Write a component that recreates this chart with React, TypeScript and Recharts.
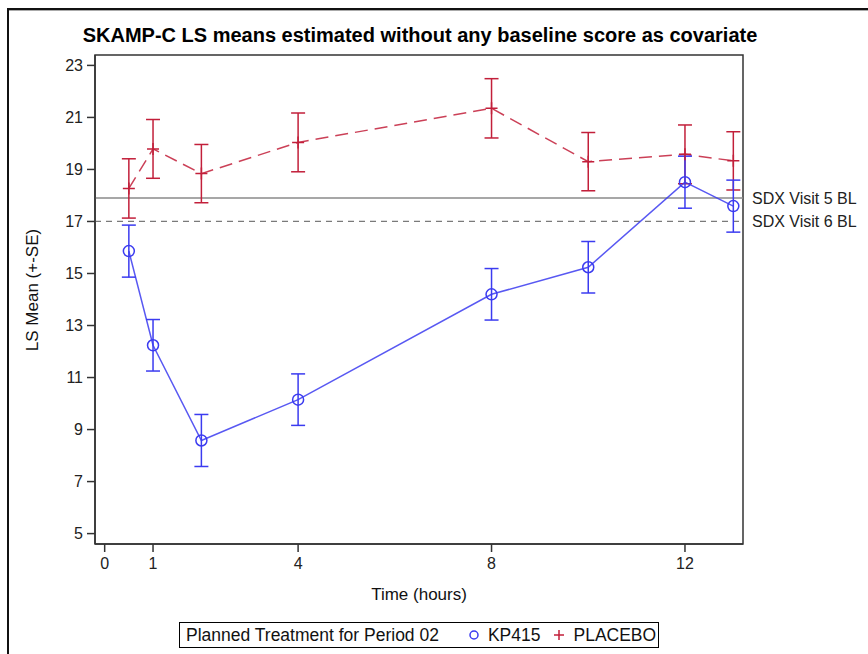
import {
  LineChart,
  Line,
  XAxis,
  YAxis,
  ErrorBar,
  ReferenceLine,
  ReferenceArea,
} from 'recharts'

// Planned time points (hours) and LS means / standard errors per treatment
const hours = [0.5, 1, 2, 4, 8, 10, 12, 13]
const kp415Mean = [15.86, 12.24, 8.58, 10.15, 14.2, 15.24, 18.51, 17.59]
const kp415Se = [1.0, 0.99, 1.0, 0.99, 0.99, 0.99, 1.0, 1.0]
const placeboMean = [18.27, 19.79, 18.84, 20.04, 21.35, 19.3, 19.58, 19.33]
const placeboSe = [1.14, 1.13, 1.12, 1.13, 1.14, 1.12, 1.13, 1.12]

const xTicks = [0, 1, 4, 8, 12]
const yTicks = [5, 7, 9, 11, 13, 15, 17, 19, 21, 23]

// SDX baselines
const visit5Baseline = 17.9
const visit6Baseline = 17.0

const BLUE = '#3b3bf0'
const RED = '#c21f3a'
const FONT = '"Liberation Sans", Arial, sans-serif'

const rows = hours.map((h, i) => ({
  hours: h,
  kp415: kp415Mean[i],
  kp415Se: kp415Se[i],
  placebo: placeboMean[i],
  placeboSe: placeboSe[i],
}))

function PlusDot(props: { cx?: number; cy?: number; index?: number }) {
  const { cx, cy, index } = props
  if (cx == null || cy == null) return <g key={index} />
  return (
    <path
      key={index}
      d={`M${cx - 6},${cy}H${cx + 6}M${cx},${cy - 6}V${cy + 6}`}
      stroke={RED}
      strokeWidth={1.5}
      fill="none"
    />
  )
}

function LegendBox() {
  return (
    <div
      style={{
        position: 'absolute',
        left: 179,
        top: 622,
        width: 480,
        height: 26,
        border: '1px solid #000',
        display: 'flex',
        alignItems: 'center',
        fontFamily: FONT,
        fontSize: 17.5,
        color: '#111',
        boxSizing: 'border-box',
        paddingLeft: 6,
        whiteSpace: 'nowrap',
      }}
    >
      <span>Planned Treatment for Period 02</span>
      <svg width={12} height={12} style={{ marginLeft: 29, marginRight: 8 }}>
        <circle cx={6} cy={6} r={4} fill="none" stroke={BLUE} strokeWidth={1.5} />
      </svg>
      <span>KP415</span>
      <svg width={12} height={12} style={{ marginLeft: 13, marginRight: 8 }}>
        <path d="M1,6H11M6,1V11" stroke={RED} strokeWidth={1.5} />
      </svg>
      <span>PLACEBO</span>
    </div>
  )
}

export default function App() {
  return (
    <div
      style={{
        position: 'absolute',
        left: 0,
        top: 0,
        width: 868,
        height: 654,
        overflow: 'hidden',
        background: '#fff',
        fontFamily: FONT,
      }}
    >
      {/* outer graph frame (left and top edges) */}
      <div style={{ position: 'absolute', left: 7, top: 8, width: 870, height: 2, background: '#111' }} />
      <div style={{ position: 'absolute', left: 7, top: 10, width: 870, height: 1, background: '#aaa' }} />
      <div style={{ position: 'absolute', left: 7, top: 8, width: 2, height: 660, background: '#111' }} />

      <div
        style={{
          position: 'absolute',
          left: 420,
          top: 35,
          transform: 'translate(-50%, -50%)',
          fontSize: 20,
          fontWeight: 700,
          color: '#000',
          whiteSpace: 'nowrap',
        }}
      >
        SKAMP-C LS means estimated without any baseline score as covariate
      </div>

      <div
        style={{
          position: 'absolute',
          left: 33,
          top: 290,
          transform: 'translate(-50%, -50%) rotate(-90deg)',
          fontSize: 17,
          color: '#111',
          whiteSpace: 'nowrap',
        }}
      >
        LS Mean (+-SE)
      </div>

      <div
        style={{
          position: 'absolute',
          left: 419,
          top: 595,
          transform: 'translate(-50%, -50%)',
          fontSize: 17,
          color: '#111',
          whiteSpace: 'nowrap',
        }}
      >
        Time (hours)
      </div>

      <div style={{ position: 'absolute', left: 0, top: 0 }}>
        <LineChart
          width={868}
          height={654}
          data={rows}
          margin={{ top: 55, right: 125, bottom: 80, left: 35 }}
        >
          <XAxis
            dataKey="hours"
            type="number"
            domain={[-0.2, 13.2]}
            ticks={xTicks}
            allowDataOverflow
            height={30}
            tickSize={8}
            tickMargin={6}
            axisLine={{ stroke: '#333', strokeWidth: 1.5 }}
            tickLine={{ stroke: '#333', strokeWidth: 1.5 }}
            tick={{ fill: '#222', fontSize: 16, fontFamily: FONT }}
          />
          <YAxis
            type="number"
            domain={[4.6, 23.4]}
            ticks={yTicks}
            allowDataOverflow
            width={60}
            tickSize={8}
            tickMargin={4}
            axisLine={{ stroke: '#333', strokeWidth: 1.5 }}
            tickLine={{ stroke: '#333', strokeWidth: 1.5 }}
            tick={{ fill: '#222', fontSize: 16, fontFamily: FONT }}
          />
          <ReferenceArea
            x1={-0.2}
            x2={13.2}
            y1={4.6}
            y2={23.4}
            fill="none"
            fillOpacity={0}
            stroke="#333"
            strokeWidth={1.5}
            ifOverflow="visible"
          />
          <ReferenceLine
            y={visit5Baseline}
            stroke="#8a8a8a"
            strokeWidth={1.5}
            label={{
              value: 'SDX Visit 5 BL',
              position: 'right',
              offset: 9,
              fill: '#222',
              fontSize: 16,
              fontFamily: FONT,
            }}
          />
          <ReferenceLine
            y={visit6Baseline}
            stroke="#7a7a7a"
            strokeWidth={1.2}
            strokeDasharray="6 5"
            label={{
              value: 'SDX Visit 6 BL',
              position: 'right',
              offset: 9,
              fill: '#222',
              fontSize: 16,
              fontFamily: FONT,
            }}
          />
          <Line
            dataKey="placebo"
            stroke={RED}
            strokeOpacity={0.85}
            strokeWidth={1.5}
            strokeDasharray="13 7"
            dot={(p: any) => <PlusDot key={p.index} {...p} />}
            activeDot={false}
            isAnimationActive={false}
          >
            <ErrorBar
              dataKey="placeboSe"
              direction="y"
              width={7}
              stroke={RED}
              strokeWidth={1.5}
              isAnimationActive={false}
            />
          </Line>
          <Line
            dataKey="kp415"
            stroke={BLUE}
            strokeOpacity={0.85}
            strokeWidth={1.5}
            dot={{ r: 5.5, fill: 'none', stroke: BLUE, strokeWidth: 1.5, strokeOpacity: 1 }}
            activeDot={false}
            isAnimationActive={false}
          >
            <ErrorBar
              dataKey="kp415Se"
              direction="y"
              width={7}
              stroke={BLUE}
              strokeWidth={1.5}
              isAnimationActive={false}
            />
          </Line>
        </LineChart>
      </div>

      <LegendBox />
    </div>
  )
}
